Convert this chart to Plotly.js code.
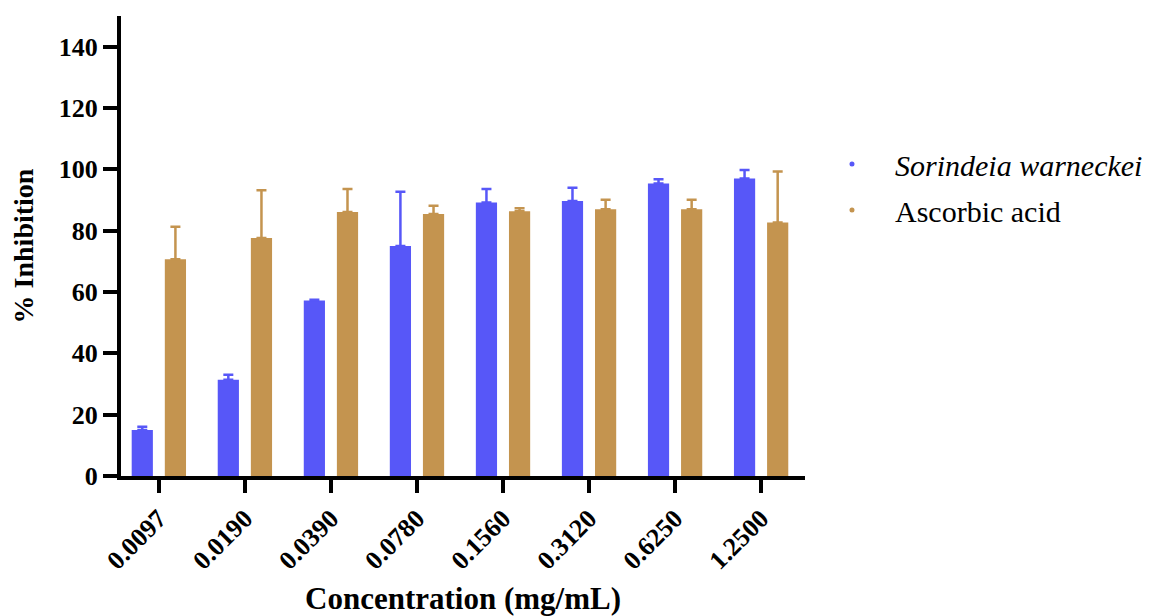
<!DOCTYPE html>
<html>
<head>
<meta charset="utf-8">
<script src="https://cdn.plot.ly/plotly-3.0.1.min.js"></script>
<style>
html,body{margin:0;padding:0;background:#fff;}
#chart{width:1166px;height:616px;}
</style>
</head>
<body>
<div id="chart"></div>
<script>
const concentrations = ["0.0097","0.0190","0.0390","0.0780","0.1560","0.3120","0.6250","1.2500"];
const sorindeiaMean = [15.0, 31.4, 57.2, 75.0, 89.2, 89.7, 95.4, 97.0];
const sorindeiaErr  = [1.1, 1.6, 0.3, 17.7, 4.4, 4.3, 1.4, 2.8];
const ascorbicMean  = [70.7, 77.6, 86.1, 85.4, 86.3, 87.0, 87.0, 82.7];
const ascorbicErr   = [10.6, 15.6, 7.5, 2.7, 1.0, 3.1, 3.1, 16.6];
const seriesNames = ["Sorindeia warneckei", "Ascorbic acid"];
const legendLabels = ["<i>Sorindeia warneckei</i>", "Ascorbic acid"];
const zeros = concentrations.map(() => 0);

const blue = "#5757F8";
const gold = "#C4944F";
const colors = [blue, gold];
const serif = "Liberation Serif";

const traces = [
  {
    type: "bar", x: concentrations, y: sorindeiaMean, name: seriesNames[0],
    marker: {color: blue, line: {width: 0}}, showlegend: false,
    error_y: {type: "data", symmetric: false, array: sorindeiaErr, arrayminus: zeros,
              color: blue, thickness: 2.5, width: 5}
  },
  {
    type: "bar", x: concentrations, y: ascorbicMean, name: seriesNames[1],
    marker: {color: gold, line: {width: 0}}, showlegend: false,
    error_y: {type: "data", symmetric: false, array: ascorbicErr, arrayminus: zeros,
              color: gold, thickness: 2.5, width: 5}
  }
];

// Custom legend (dot + serif label), placed in paper coordinates
const legendTextX = 1.1287, legendDotX = 1.0687;
const legendYs = [0.676, 0.576];
const legendAnnotations = legendLabels.map((t, i) => ({
  xref: "paper", yref: "paper", x: legendTextX, y: legendYs[i],
  xanchor: "left", yanchor: "middle", showarrow: false, text: t,
  font: {family: serif, size: 30, color: "#000"}
}));
const legendDots = colors.map((c, i) => ({
  type: "circle", xref: "paper", yref: "paper",
  xsizemode: "pixel", ysizemode: "pixel",
  xanchor: legendDotX, yanchor: legendYs[i] + 0.002,
  x0: -2.5, x1: 2.5, y0: -2.5, y1: 2.5,
  fillcolor: c, line: {width: 0}
}));

const layout = {
  width: 1166, height: 616,
  paper_bgcolor: "#fff", plot_bgcolor: "#fff",
  margin: {l: 121, r: 361, t: 16, b: 140, pad: 0},
  barmode: "group", bargap: 0.23, bargroupgap: 0.36,
  font: {family: serif, color: "#000"},
  showlegend: false,
  annotations: legendAnnotations,
  shapes: legendDots,
  xaxis: {
    type: "category", range: [-0.44, 7.51],
    showline: true, linewidth: 4, linecolor: "#000",
    ticks: "outside", ticklen: 13, tickwidth: 4, tickcolor: "#000",
    tickangle: -45, showgrid: false, zeroline: false,
    tickfont: {family: serif, size: 26, weight: "bold", color: "#000"},
    title: {text: "Concentration (mg/mL)", standoff: 20,
            font: {family: serif, size: 31, weight: "bold", color: "#000"}}
  },
  yaxis: {
    range: [0, 150], tick0: 0, dtick: 20,
    showline: true, linewidth: 4, linecolor: "#000",
    ticks: "outside", ticklen: 14, tickwidth: 4, tickcolor: "#000",
    showgrid: false, zeroline: false,
    tickfont: {family: serif, size: 26, weight: "bold", color: "#000"},
    title: {text: "% Inhibition", standoff: 18,
            font: {family: serif, size: 28, weight: "bold", color: "#000"}}
  }
};

Plotly.newPlot("chart", traces, layout, {displayModeBar: false, staticPlot: true});
</script>
</body>
</html>
